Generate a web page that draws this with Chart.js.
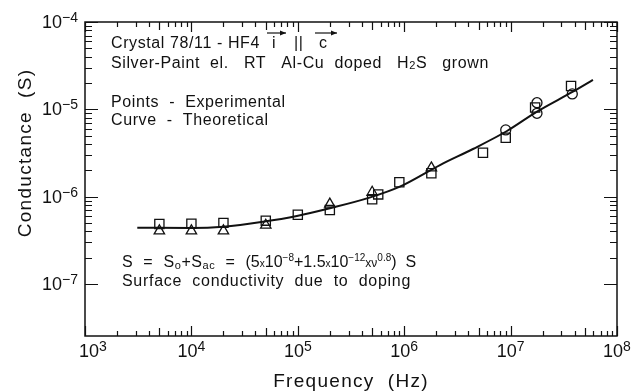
<!DOCTYPE html>
<html>
<head>
<meta charset="UTF-8">
<title>Conductance vs Frequency</title>
<script src="https://cdn.jsdelivr.net/npm/chart.js"></script>
<style>
  html, body { margin: 0; padding: 0; background: #fff; }
</style>
</head>
<body>
<canvas id="condChart" width="632" height="392"></canvas>
<script>
// theoretical curve
var curveFreq = [3.1e3, 1e4, 2e4, 4.7e4, 9.8e4, 2e5, 4.8e5, 9.1e5, 2.17e6, 4.43e6, 9.25e6, 1.77e7, 3.85e7, 5.94e7];
var curveCond = [4.41e-7, 4.37e-7, 4.52e-7, 5.15e-7, 6.0e-7, 7.35e-7, 9.8e-7, 1.30e-6, 2.30e-6, 3.51e-6, 5.64e-6, 9.4e-6, 1.59e-5, 2.17e-5];

// experimental points
var squareFreq = [5e3, 1e4, 2e4, 5e4, 1e5, 2e5, 5e5, 5.7e5, 9e5, 1.8e6, 5.5e6, 9e6, 1.7e7, 3.7e7];
var squareCond = [4.85e-7, 4.9e-7, 5.0e-7, 5.3e-7, 6.2e-7, 7.0e-7, 9.3e-7, 1.06e-6, 1.46e-6, 1.85e-6, 3.18e-6, 4.73e-6, 1.05e-5, 1.85e-5];
var triangleFreq = [5e3, 1e4, 2e4, 5e4, 2e5, 5e5, 1.8e6];
var triangleCond = [4.05e-7, 4.05e-7, 4.05e-7, 4.7e-7, 8.2e-7, 1.12e-6, 2.13e-6];
var circleFreq = [9e6, 1.77e7, 1.77e7, 3.8e7];
var circleCond = [5.8e-6, 1.19e-5, 9.0e-6, 1.5e-5];

// axes
var xMin = 1e3, xMax = 1e8;
var yMin = 2.53e-8, yMax = 1e-4;
var xDecades = [3, 4, 5, 6, 7, 8];
var yDecades = [-4, -5, -6, -7];

function pts(xs, ys) {
    return xs.map(function(x, i) { return { x: x, y: ys[i] }; });
}

var FONT = '"Liberation Sans", Arial, Helvetica, sans-serif';
var INK = '#111';

// draws a row of [text, size, dy] parts starting at x, returns end x
function drawRich(ctx, x, y, parts) {
    parts.forEach(function(p) {
        ctx.font = p[1] + 'px ' + FONT;
        ctx.fillText(p[0], x, y + (p[2] || 0));
        x += ctx.measureText(p[0]).width;
    });
    return x;
}

function richWidth(ctx, parts) {
    var w = 0;
    parts.forEach(function(p) {
        ctx.font = p[1] + 'px ' + FONT;
        w += ctx.measureText(p[0]).width;
    });
    return w;
}

function arrowOver(ctx, x1, x2, y) {
    ctx.beginPath();
    ctx.moveTo(x1, y);
    ctx.lineTo(x2, y);
    ctx.stroke();
    ctx.beginPath();
    ctx.moveTo(x2, y);
    ctx.lineTo(x2 - 6, y - 2.5);
    ctx.lineTo(x2 - 6, y + 2.5);
    ctx.closePath();
    ctx.fill();
}

var framePlugin = {
    id: 'frame',
    afterDraw: function(chart) {
        var ctx = chart.ctx, xs = chart.scales.x, ys = chart.scales.y, a = chart.chartArea;
        ctx.save();
        ctx.strokeStyle = INK;
        ctx.fillStyle = INK;
        ctx.lineWidth = 1.5;
        ctx.strokeRect(a.left, a.top, a.right - a.left, a.bottom - a.top);

        // tick marks pointing inwards, on all four sides
        ctx.lineWidth = 1.2;
        ctx.beginPath();
        xDecades.forEach(function(e) {
            for (var k = 1; k <= 9; k++) {
                if (e === 8 && k > 1) break;
                var px = Math.round(xs.getPixelForValue(k * Math.pow(10, e))) + 0.5;
                var len = k === 1 ? 10 : (k === 5 ? 8 : 5);
                ctx.moveTo(px, a.bottom); ctx.lineTo(px, a.bottom - len);
                ctx.moveTo(px, a.top); ctx.lineTo(px, a.top + len);
            }
        });
        yDecades.forEach(function(e) {
            for (var k = 1; k <= 9; k++) {
                if (e === -4 && k > 1) break;
                var py = Math.round(ys.getPixelForValue(k * Math.pow(10, e))) + 0.5;
                var len = k === 1 ? 13 : 7;
                ctx.moveTo(a.left, py); ctx.lineTo(a.left + len, py);
                ctx.moveTo(a.right, py); ctx.lineTo(a.right - len, py);
            }
        });
        ctx.stroke();

        // tick labels
        ctx.textBaseline = 'alphabetic';
        ctx.textAlign = 'left';
        xDecades.forEach(function(e, i) {
            var parts = [['10', 18], [String(e), 14, -6]];
            var w = richWidth(ctx, parts);
            var px = xs.getPixelForValue(Math.pow(10, e));
            var x0 = px - w / 2 + (i === 0 ? 8 : 0);
            drawRich(ctx, x0, 357, parts);
        });
        yDecades.forEach(function(e) {
            var parts = [['10', 18], ['\u2212' + String(-e), 14, -6]];
            var w = richWidth(ctx, parts);
            var py = ys.getPixelForValue(Math.pow(10, e));
            drawRich(ctx, 78 - w, py + 6, parts);
        });

        // axis titles
        ctx.font = '19px ' + FONT;
        ctx.letterSpacing = '1.3px';
        ctx.textAlign = 'center';
        ctx.fillText('Frequency  (Hz)', (a.left + a.right) / 2, 387);
        ctx.save();
        ctx.translate(31, 153);
        ctx.rotate(-Math.PI / 2);
        ctx.fillText('Conductance  (S)', 0, 0);
        ctx.restore();

        // notes in the plot
        ctx.letterSpacing = '0.6px';
        ctx.textAlign = 'left';
        drawRich(ctx, 111, 48, [['Crystal 78/11 - HF4', 16]]);
        ctx.font = '16px ' + FONT;
        ctx.fillText('i', 272, 48);
        ctx.fillText('||', 294, 48);
        ctx.fillText('c', 319, 48);
        ctx.lineWidth = 1.2;
        arrowOver(ctx, 267, 286, 33);
        arrowOver(ctx, 315, 337, 33);

        drawRich(ctx, 111, 68, [['Silver-Paint  el.   RT   Al-Cu  doped   H', 16], ['2', 11, 1], ['S   grown', 16]]);
        drawRich(ctx, 111, 107, [['Points  -  Experimental', 16]]);
        drawRich(ctx, 111, 125, [['Curve  -  Theoretical', 16]]);

        var fx = drawRich(ctx, 122, 267, [
            ['S  =  S', 16], ['o', 11, 2], ['+S', 16], ['ac', 11, 2], ['  =  ', 16]
        ]);
        ctx.letterSpacing = '0px';
        drawRich(ctx, fx, 267, [
            ['(5', 16], ['x', 10], ['10', 16], ['\u22128', 10, -6],
            ['+1.5', 16], ['x', 10], ['10', 16], ['\u221212', 10, -6],
            ['x\u03bd', 12], ['0.8', 10, -6], [')  S', 16]
        ]);
        ctx.letterSpacing = '0.7px';
        drawRich(ctx, 122, 286, [['Surface  conductivity  due  to  doping', 16]]);
        ctx.restore();
    }
};

var ctx = document.getElementById('condChart').getContext('2d');
var condChart = new Chart(ctx, {
    type: 'scatter',
    data: {
        datasets: [
            {
                label: 'Theoretical',
                data: pts(curveFreq, curveCond),
                showLine: true,
                borderColor: INK,
                borderWidth: 2,
                pointRadius: 0,
                cubicInterpolationMode: 'monotone'
            },
            {
                label: 'Squares',
                data: pts(squareFreq, squareCond),
                pointStyle: 'rect',
                pointRadius: 6.5,
                borderColor: INK,
                borderWidth: 1.3,
                backgroundColor: 'rgba(0,0,0,0)'
            },
            {
                label: 'Triangles',
                data: pts(triangleFreq, triangleCond),
                pointStyle: 'triangle',
                pointRadius: 6,
                borderColor: INK,
                borderWidth: 1.3,
                backgroundColor: 'rgba(0,0,0,0)'
            },
            {
                label: 'Circles',
                data: pts(circleFreq, circleCond),
                pointStyle: 'circle',
                pointRadius: 5,
                borderColor: INK,
                borderWidth: 1.3,
                backgroundColor: 'rgba(0,0,0,0)'
            }
        ]
    },
    options: {
        responsive: false,
        animation: false,
        layout: { padding: { left: 85, right: 15, top: 22, bottom: 56 } },
        plugins: {
            legend: { display: false },
            tooltip: { enabled: false }
        },
        scales: {
            x: { type: 'logarithmic', min: xMin, max: xMax, display: false },
            y: { type: 'logarithmic', min: yMin, max: yMax, display: false }
        }
    },
    plugins: [framePlugin]
});
</script>
</body>
</html>
